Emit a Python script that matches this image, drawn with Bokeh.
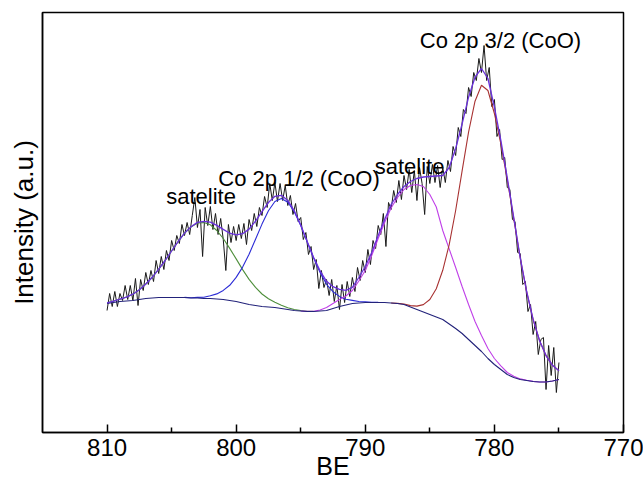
import numpy as np
from bokeh.plotting import figure
from bokeh.models import Range1d, FixedTicker, Label
from bokeh.embed import file_html
from bokeh.resources import INLINE

# ---------------- data ----------------
# raw XPS spectrum: binding energy from 810.0 eV down to 775.0 eV, 0.2 eV apart
raw_start = 810.0
raw_step = -0.2
raw_counts = [
    122, 139, 126, 141, 126, 139, 132, 147, 133, 147,
    132, 154, 127, 153, 142, 160, 148, 162, 151, 172,
    159, 176, 163, 182, 172, 192, 182, 197, 189, 208,
    197, 210, 198, 217, 235, 205, 223, 176, 225, 207,
    226, 203, 219, 198, 214, 193, 162, 208, 190, 206,
    192, 208, 194, 209, 188, 213, 202, 219, 206, 225,
    217, 236, 225, 249, 232, 250, 231, 249, 232, 247,
    227, 237, 218, 229, 211,
    215, 193, 200, 178, 186, 163, 173, 144, 162, 145,
    153, 137, 153, 131, 147, 123, 148, 130, 151, 136,
    155, 141, 165, 152, 172, 160, 183, 168, 192, 184,
    207, 198, 219, 186, 230, 223, 242, 230, 252, 233,
    257, 243, 263, 240, 262, 232, 265, 249, 218, 266,
    249, 268, 250, 267, 245, 265, 250, 272, 261, 286,
    277, 305, 296, 323, 319, 345, 336, 360, 352, 374,
    360, 387, 352, 365, 326, 333, 296, 303, 273, 275,
    245, 243, 213, 211, 180, 179, 148, 151, 121, 128,
    98, 111, 78, 93, 95, 43, 87, 57, 85, 40,
    70,
]

# fitted curves, sampled every 0.5 eV
fit_step = -0.5

background_start = 810.0
background = [
    129, 130, 131, 131.5, 132, 133, 134, 134.5, 135, 135,
    135, 135, 135, 134.5, 134.5, 134, 134, 133.5, 133, 132,
    131, 129.5, 128, 127, 126, 125.5, 125, 124, 123, 122,
    121.5, 121, 121, 121.5, 122, 124, 126, 127.5, 129, 129.5,
    130, 130, 130, 130, 129.5, 129, 128, 125.5, 123, 120.5,
    118, 115.5, 113, 108.5, 104, 99, 93, 87, 81, 74,
    68, 63, 58, 55, 53, 52, 51, 50.5, 50.5, 51.5,
    53,
]

envelope_start = 810.0
envelope = [
    129.7, 131.3, 133.3, 135.4, 138.3, 142.8, 148.5, 155.2, 163.3, 172,
    181.5, 190.8, 199.4, 205.7, 210.1, 211.2, 210.4, 207.1, 203.1, 199.3,
    197.7, 198.8, 203.4, 211.4, 220.9, 230, 236.2, 237.2, 232.1, 221.7,
    207.4, 190.9, 175, 161.6, 151.2, 145.8, 143.1, 142.2, 145.1, 155,
    166, 180, 197, 213, 228, 238, 246, 251, 254, 255.5,
    256, 256.5, 257, 265, 284, 308.7, 335.3, 355.3, 364, 354,
    325.3, 292.2, 254.6, 214.8, 174.9, 141, 113.1, 91.8, 76.9, 67.2,
    61.8,
]

# satellite of Co 2p 1/2 (green), drawn on top of the background
sat1_start = 810.0
sat1 = [
    129.7, 131.3, 133.3, 135.4, 138.3, 142.8, 148.5, 155.2, 163.3, 172,
    181.5, 190.8, 199.3, 205.4, 209.5, 209.9, 207.7, 202, 194, 184.1,
    173.6, 162.9, 153.1, 145.1, 138.5, 133.7, 130.2, 127.2, 124.8, 123,
    122, 121.3, 121.1,
]

# Co 2p 1/2 (CoO) (blue)
p12_start = 804.0
p12 = [
    135.1, 134.8, 135.1, 135.3, 136.7, 138.6, 142.1, 147.2, 155.1, 165.4,
    178.3, 193.3, 208.4, 221.8, 231, 234, 230.3, 220.7, 206.9, 190.6,
    174.4, 160.1, 148.2, 140.8, 136.1, 133.2, 132.1, 131, 130.7, 130.3,
    130.1,
]

# satellite of Co 2p 3/2 (magenta)
sat2_start = 795.0
sat2 = [
    121.5, 121.1, 121.2, 122.5, 125, 129, 133, 136.5, 142, 151.5,
    162, 177, 194, 210, 224.5, 235, 243, 247, 248, 246,
    238, 225.5, 202, 183.5, 165, 146, 128, 111, 97, 84,
    74, 66.7, 60, 56.2, 53.6, 52.3, 51.1, 50.5, 50.5, 51.5,
    53,
]

# Co 2p 3/2 (CoO) (red)
p32_start = 788.0
p32 = [
    129.5, 129.1, 128.5, 126.9, 126.4, 127.9, 133, 143.8, 162.2, 187.8,
    222, 261.7, 300.3, 331.3, 347.2, 342, 319, 288.5, 252.5, 213.6,
    174.3, 140.7, 113, 91.8, 76.9, 67.2, 61.8,
]

x_ticks = [810, 800, 790, 780, 770]
x_minor_ticks = [805, 795, 785, 775]

annotations = ["satelite", "Co 2p 1/2 (CoO)", "satelite", "Co 2p 3/2 (CoO)"]


def grid(start, step, n):
    return start + step * np.arange(n)


FONT = "Liberation Sans"

p = figure(width=643, height=485,
           x_range=Range1d(815, 770), y_range=Range1d(0, 420),
           output_backend="svg", toolbar_location=None,
           min_border_left=42, min_border_right=20,
           min_border_top=12, min_border_bottom=53)
p.xgrid.visible = False
p.ygrid.visible = False
p.outline_line_color = "black"
p.outline_line_width = 1.5
p.background_fill_color = "white"
p.border_fill_color = "white"

xa = p.xaxis[0]
xa.ticker = FixedTicker(ticks=x_ticks, minor_ticks=x_minor_ticks)
xa.major_tick_in = 8
xa.major_tick_out = 0
xa.minor_tick_in = 5
xa.minor_tick_out = 0
xa.axis_line_width = 1.5
xa.axis_line_color = "black"
xa.major_tick_line_width = 1.5
xa.minor_tick_line_width = 1.5
xa.major_tick_line_color = "black"
xa.minor_tick_line_color = "black"
xa.major_label_text_font = FONT
xa.major_label_text_font_size = "24px"
xa.major_label_text_color = "black"
xa.major_label_standoff = 6
xa.axis_label = "BE"
xa.axis_label_text_font = FONT
xa.axis_label_text_font_size = "25px"
xa.axis_label_text_font_style = "normal"
xa.axis_label_text_color = "black"
xa.axis_label_standoff = -7

ya = p.yaxis[0]
ya.ticker = FixedTicker(ticks=[])
ya.major_tick_in = 0
ya.major_tick_out = 0
ya.minor_tick_in = 0
ya.minor_tick_out = 0
ya.major_label_standoff = 0
ya.axis_line_width = 1.5
ya.axis_line_color = "black"
ya.axis_label = "Intensity (a.u.)"
ya.axis_label_text_font = FONT
ya.axis_label_text_font_size = "26px"
ya.axis_label_text_font_style = "normal"
ya.axis_label_text_color = "black"
ya.axis_label_standoff = 4

# raw data
p.line(grid(raw_start, raw_step, len(raw_counts)), raw_counts,
       line_color="#1a1a1a", line_width=1)

# fitted components
p.line(grid(sat1_start, fit_step, len(sat1)), sat1, line_color="#4f8f3c", line_width=1.1)
p.line(grid(p12_start, fit_step, len(p12)), p12, line_color="#2b2bd6", line_width=1.1)
p.line(grid(sat2_start, fit_step, len(sat2)), sat2, line_color="#c040e8", line_width=1.1)
p.line(grid(p32_start, fit_step, len(p32)), p32, line_color="#a83232", line_width=1.1)
p.line(grid(background_start, fit_step, len(background)), background,
       line_color="#22227a", line_width=1.1)
p.line(grid(envelope_start, fit_step, len(envelope)), envelope,
       line_color="#6a30dc", line_width=1.3)

# peak annotations
ann_pos = [(805.42, 236), (801.38, 254), (789.27, 266), (785.78, 392)]
for txt, (ax, ay) in zip(annotations, ann_pos):
    p.add_layout(Label(x=ax, y=ay, text=txt, text_font=FONT,
                       text_font_size="22px", text_color="black",
                       text_align="left", text_baseline="alphabetic"))

open("out.html", "w").write(file_html(p, INLINE))
